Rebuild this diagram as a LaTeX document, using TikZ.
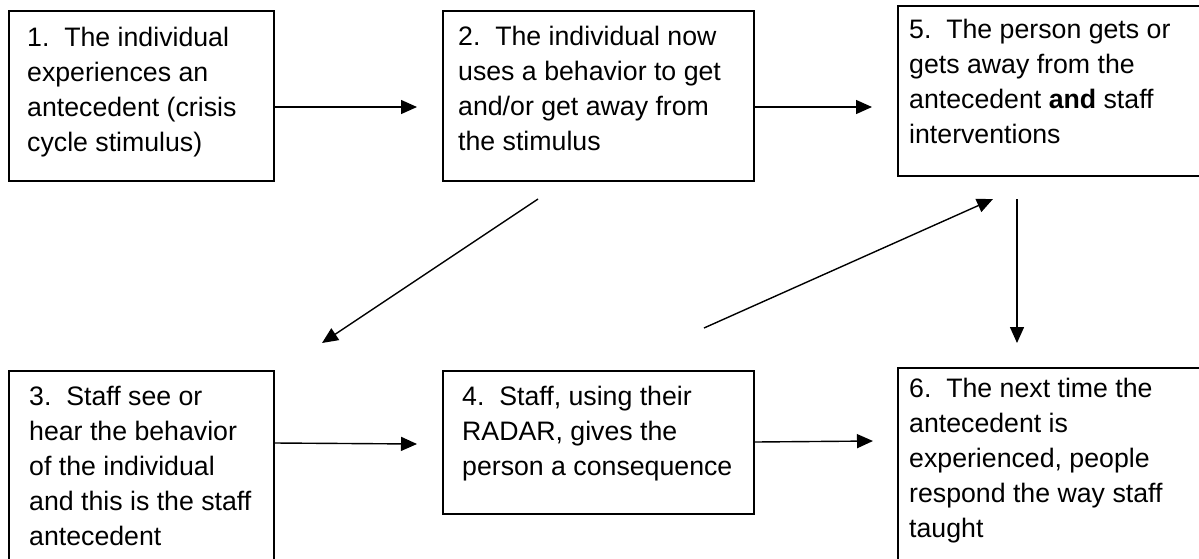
\documentclass[tikz,border=0pt]{standalone}
\usepackage{fontspec}
\setmainfont{Liberation Sans}
\usetikzlibrary{arrows.meta}
\begin{document}
\begin{tikzpicture}[x=1pt,y=-1pt,
  box/.style={draw, line width=2pt, inner sep=0, anchor=north west},
  txt/.style={anchor=north west, inner sep=0, align=left, font=\fontsize{26.7}{35}\selectfont},
  arr/.style={line width=1.4pt, -{Triangle[length=16pt,width=14pt]}}]
\useasboundingbox (0,0) rectangle (1199,558);
\clip (0,0) rectangle (1199,558);
% boxes
\node[box, minimum width=265pt, minimum height=170pt] (b1) at (8,10) {};
\node[box, minimum width=311pt, minimum height=170pt] (b2) at (442,10) {};
\node[box, minimum width=318pt, minimum height=170pt] (b5) at (897,5) {};
\node[box, minimum width=265pt, minimum height=230pt] (b3) at (8,370) {};
\node[box, minimum width=311pt, minimum height=143pt] (b4) at (442,370) {};
\node[box, minimum width=318pt, minimum height=233pt] (b6) at (897,367) {};
% texts
\node[txt] (t1) at (27,27) {1.\ \ The individual\\experiences an\\antecedent (crisis\\cycle stimulus)};
\node[txt] (t2) at (458,26) {2.\ \ The individual now\\uses a behavior to get\\and/or get away from\\the stimulus};
\node[txt] (t5) at (909,19) {5.\ \ The person gets or\\gets away from the\\antecedent \textbf{and} staff\\interventions};
\node[txt] (t3) at (29,386) {3.\ \ Staff see or\\hear the behavior\\of the individual\\and this is the staff\\antecedent};
\node[txt] (t4) at (462,386) {4.\ \ Staff, using their\\RADAR, gives the\\person a consequence};
\node[txt] (t6) at (909,378) {6.\ \ The next time the\\antecedent is\\experienced, people\\respond the way staff\\taught};
% connector end points
\coordinate (a12e) at (417,107);
\coordinate (a25e) at (872,107);
\coordinate (a23s) at (538,199);
\coordinate (a23e) at (322,343);
\coordinate (a45s) at (704,328);
\coordinate (a45e) at (993,199);
\coordinate (a56s) at (1017,199);
\coordinate (a56e) at (1017,343);
\coordinate (a34e) at (417,444);
\coordinate (a46e) at (873,441);
% connectors
\draw[arr] (b1.east |- a12e) -- (a12e);
\draw[arr] (b2.east |- a25e) -- (a25e);
\draw[arr] (a23s) -- (a23e);
\draw[arr] (a45s) -- (a45e);
\draw[arr] (a56s) -- (a56e);
\draw[arr] (b3.east |- 0,443) -- (a34e);
\draw[arr] (b4.east |- 0,442) -- (a46e);
\end{tikzpicture}
\end{document}
